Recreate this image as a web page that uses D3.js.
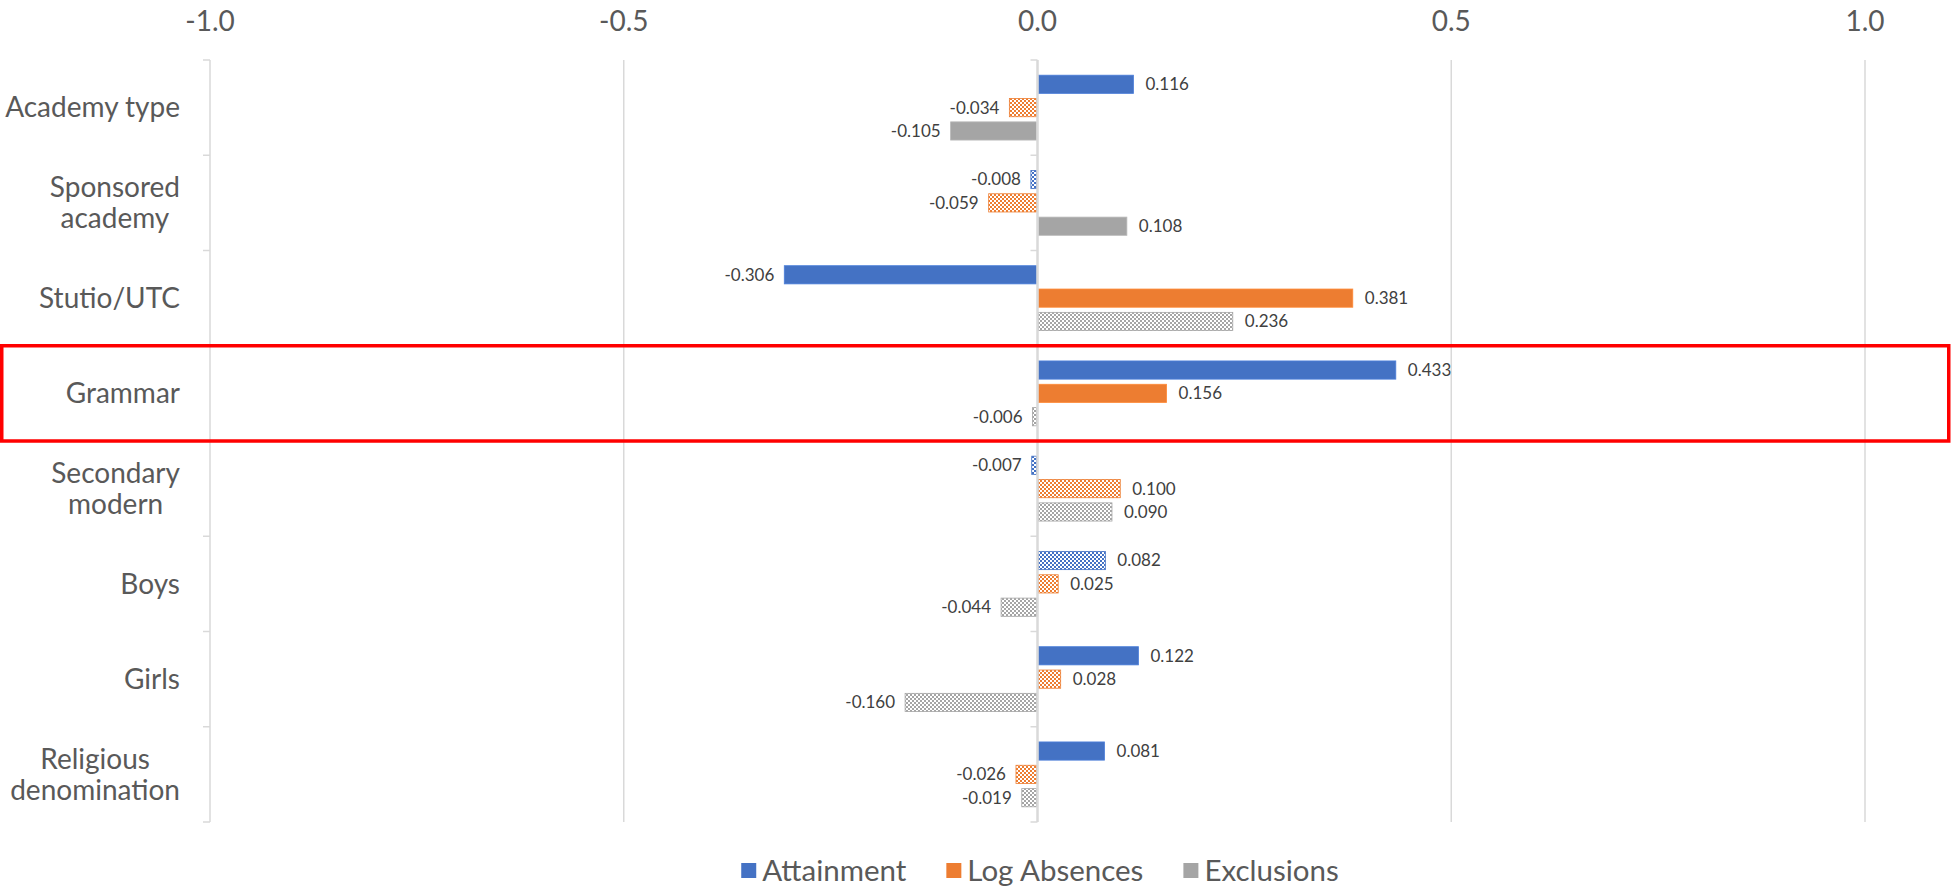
<!DOCTYPE html>
<html>
<head>
<meta charset="utf-8">
<script src="https://cdn.jsdelivr.net/npm/d3@7"></script>
<style>
  body { margin: 0; background: #fff; }
  text { font-family: Lato, "Open Sans", sans-serif; }
</style>
</head>
<body>
<svg id="chart" width="1952" height="888"></svg>
<script>
// categories (line breaks as in the original labels)
const categories = ["Academy type", "Sponsored\nacademy", "Stutio/UTC", "Grammar",
    "Secondary\nmodern", "Boys", "Girls", "Religious\ndenomination"];
const seriesNames = ["Attainment", "Log Absences", "Exclusions"];
const attainment = [0.116, -0.008, -0.306, 0.433, -0.007, 0.082, 0.122, 0.081];
const logAbsences = [-0.034, -0.059, 0.381, 0.156, 0.100, 0.025, 0.028, -0.026];
const exclusions = [-0.105, 0.108, 0.236, -0.006, 0.090, -0.044, -0.160, -0.019];
// 1 = solid bar, 0 = checkered bar
const attainmentSolid = [1, 0, 1, 1, 0, 0, 1, 1];
const logAbsencesSolid = [0, 0, 1, 1, 0, 0, 0, 0];
const exclusionsSolid = [1, 1, 0, 0, 0, 0, 0, 0];
const xTicks = [-1.0, -0.5, 0, 0.5, 1.0];
const highlighted = "Grammar";

const colors = {"Attainment": "#4472C4", "Log Absences": "#ED7D31", "Exclusions": "#A5A5A5"};

let series = [
    {name: "Attainment", values: attainment, solid: attainmentSolid},
    {name: "Log Absences", values: logAbsences, solid: logAbsencesSolid},
    {name: "Exclusions", values: exclusions, solid: exclusionsSolid}
];

// plain hyphen for negatives, like Excel
const locale = d3.formatLocale({decimal: ".", thousands: ",", grouping: [3], currency: ["", ""], minus: "-"});
const fmt1 = locale.format(".1f");
const fmt3 = locale.format(".3f");

const svg = d3.select("#chart");
const plotTop = 60, plotBottom = 822;

let x = d3.scaleLinear().domain([-1, 1]).range([210, 1865]);
let y = d3.scaleBand().domain(categories).range([plotTop, plotBottom]).paddingInner(0.265).paddingOuter(0.1325);
let ySub = d3.scaleBand().domain(seriesNames).range([0, y.bandwidth()]).paddingInner(0.22).paddingOuter(0.11);
let step = y.step();
let half = (step - y.bandwidth()) / 2;

//checker patterns
let defs = svg.append("defs");
seriesNames.forEach((s, i) => {
    let p = defs.append("pattern")
        .attr("id", "chk" + i)
        .attr("patternUnits", "userSpaceOnUse")
        .attr("width", 4).attr("height", 4);
    p.append("rect").attr("width", 4).attr("height", 4).attr("fill", "#fff");
    p.append("rect").attr("width", 2).attr("height", 2).attr("fill", colors[s]);
    p.append("rect").attr("x", 2).attr("y", 2).attr("width", 2).attr("height", 2).attr("fill", colors[s]);
});

// gridlines
svg.append("g").selectAll("line")
    .data(xTicks.filter(d => d !== 0))
    .join("line")
    .attr("x1", d => x(d)).attr("x2", d => x(d))
    .attr("y1", plotTop).attr("y2", plotBottom)
    .attr("stroke", "#d9d9d9").attr("stroke-width", 1.5);

// tick marks at left edge and at zero axis
let boundaries = categories.map(c => y(c) - half);
boundaries.push(plotBottom);
[x(-1), x(0)].forEach(ax => {
    svg.append("g").selectAll("line")
        .data(boundaries)
        .join("line")
        .attr("x1", ax - 7).attr("x2", ax)
        .attr("y1", d => d).attr("y2", d => d)
        .attr("stroke", "#d9d9d9").attr("stroke-width", 1.5);
});

// top axis labels
svg.append("g").selectAll("text")
    .data(xTicks)
    .join("text")
    .attr("x", d => x(d))
    .attr("y", 31)
    .attr("text-anchor", "middle")
    .attr("font-size", 28)
    .attr("fill", "#595959")
    .text(d => fmt1(d));

// bars
let groups = svg.append("g").selectAll("g")
    .data(series)
    .join("g");

groups.selectAll("rect")
    .data((s, si) => s.values.map((v, i) => ({v, cat: categories[i], s: s.name, si, solid: s.solid[i]})))
    .join("rect")
    .attr("x", d => x(Math.min(0, d.v)) + (d.v < 0 ? 0 : 1))
    .attr("width", d => Math.max(1.5, Math.abs(x(d.v) - x(0)) - 1))
    .attr("y", d => y(d.cat) + ySub(d.s))
    .attr("height", ySub.bandwidth())
    .attr("fill", d => d.solid ? colors[d.s] : "url(#chk" + d.si + ")")
    .attr("stroke", d => d.solid ? d3.color(colors[d.s]).brighter(0.3) : colors[d.s])
    .attr("stroke-width", 0.8);

// data labels
groups.selectAll("text")
    .data((s, si) => s.values.map((v, i) => ({v, cat: categories[i], s: s.name})))
    .join("text")
    .attr("x", d => d.v >= 0 ? x(d.v) + 12 : x(d.v) - 10)
    .attr("y", d => y(d.cat) + ySub(d.s) + ySub.bandwidth() / 2)
    .attr("dy", "0.35em")
    .attr("text-anchor", d => d.v >= 0 ? "start" : "end")
    .attr("font-size", 17)
    .attr("fill", "#404040")
    .text(d => fmt3(d.v));

// zero axis
svg.append("line")
    .attr("x1", x(0)).attr("x2", x(0))
    .attr("y1", plotTop).attr("y2", plotBottom)
    .attr("stroke", "#d9d9d9").attr("stroke-width", 2.5);

// category labels
let labelRight = 180;
let catG = svg.append("g");
categories.forEach(c => {
    let lines = c.split("\n");
    let cy = y(c) + y.bandwidth() / 2;
    let lh = 31;
    let t = catG.append("text")
        .attr("font-size", 28)
        .attr("fill", "#595959")
        .attr("text-anchor", "middle");
    let spans = lines.map((l, i) => t.append("tspan")
        .attr("y", cy + (i - (lines.length - 1) / 2) * lh)
        .attr("dy", "0.35em")
        .text(l));
    let w = d3.max(spans, s => s.node().getComputedTextLength());
    spans.forEach(s => s.attr("x", labelRight - w / 2));
});

// highlight box
svg.append("rect")
    .attr("x", 1.75)
    .attr("y", y(highlighted) - half)
    .attr("width", 1947)
    .attr("height", step)
    .attr("fill", "none")
    .attr("stroke", "#ff0000")
    .attr("stroke-width", 3.5);

// legend
let legend = svg.append("g");
let lx = 0;
seriesNames.forEach(s => {
    let g = legend.append("g").attr("transform", "translate(" + lx + ",0)");
    g.append("rect").attr("x", 0).attr("y", -8).attr("width", 15).attr("height", 15).attr("fill", colors[s]);
    let t = g.append("text").attr("x", 21).attr("y", 0).attr("dy", "0.35em")
        .attr("font-size", 29.5).attr("fill", "#595959").text(s);
    lx += 21 + t.node().getComputedTextLength() + 40;
});
let lw = lx - 40;
legend.attr("transform", "translate(" + (1040 - lw / 2) + ",871)");
</script>
</body>
</html>
